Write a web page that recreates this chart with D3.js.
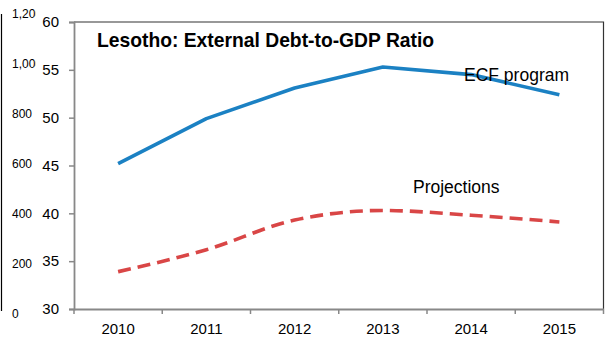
<!DOCTYPE html>
<html>
<head>
<meta charset="utf-8">
<script src="https://cdn.jsdelivr.net/npm/d3@7"></script>
<style>
  html, body { margin: 0; padding: 0; background: #fff; }
  svg { display: block; font-family: "Liberation Sans", Arial, sans-serif; }
</style>
</head>
<body>
<svg id="chart" width="607" height="338"></svg>
<script>
// Years on the category axis
const years = ["2010", "2011", "2012", "2013", "2014", "2015"];
// External debt, percent of GDP
const ecfProgram = [45.2, 49.9, 53.1, 55.3, 54.5, 52.4];
const projections = [33.9, 36.2, 39.3, 40.3, 39.8, 39.1];
// Left-hand axis ticks
const yTicks = [30, 35, 40, 45, 50, 55, 60];
// Tick labels of the underlying chart at the far left
const backTicks = [0, 200, 400, 600, 800, 1000, 1200];
const titleText = "Lesotho: External Debt-to-GDP Ratio";

const svg = d3.select("#chart");

const x = d3.scaleBand().domain(years).range([74, 603.5]);
const y = d3.scaleLinear().domain([30, 60]).range([309, 22]);
const yBack = d3.scaleLinear().domain([0, 1200]).range([314, 14]);

// Underlying chart's axis, partly hidden behind this one
svg.append("clipPath").attr("id", "backClip")
  .append("rect").attr("x", 0).attr("y", 0).attr("width", 35.5).attr("height", 338);
svg.append("line")
  .attr("x1", 1.5).attr("x2", 1.5).attr("y1", 14).attr("y2", 311)
  .attr("stroke", "#000").attr("stroke-width", 1.2);
svg.append("g").attr("clip-path", "url(#backClip)")
  .selectAll("text").data(backTicks).join("text")
  .attr("x", 12).attr("y", d => yBack(d)).attr("dy", "0.35em")
  .attr("font-size", 12).attr("fill", "#000")
  .text(d => d3.format(",")(d));

// Plot frame (top and right)
svg.append("path")
  .attr("d", `M${x.range()[0]},${y(60)}H${x.range()[1]}V${y(30)}`)
  .attr("fill", "none").attr("stroke", "#333").attr("stroke-width", 1.2);

// Y axis
const yAxis = svg.append("g")
  .attr("transform", `translate(${x.range()[0]},0)`)
  .call(d3.axisLeft(y).tickValues(yTicks).tickSize(5).tickPadding(10));
yAxis.selectAll("text").attr("font-size", 15).attr("fill", "#000")
  .attr("font-family", "'Liberation Sans', Arial, sans-serif");

// X axis with ticks between categories
const xAxis = svg.append("g")
  .attr("transform", `translate(0,${y(30)})`)
  .call(d3.axisBottom(x).tickSize(0).tickPadding(14));
xAxis.selectAll("text").attr("font-size", 15).attr("fill", "#000")
  .attr("font-family", "'Liberation Sans', Arial, sans-serif");
const bounds = years.map(d => x(d)).concat([x.range()[1]]);
xAxis.selectAll("line.sep").data(bounds).join("line").attr("class", "sep")
  .attr("x1", d => d).attr("x2", d => d).attr("y1", 0).attr("y2", 5)
  .attr("stroke", "#888").attr("stroke-width", 1.5);

[yAxis, xAxis].forEach(g => {
  g.select(".domain").attr("stroke", "#888").attr("stroke-width", 1.8);
  g.selectAll(".tick line").attr("stroke", "#888").attr("stroke-width", 1.5);
});

const cx = d => x(d) + x.bandwidth() / 2;

// ECF program line
svg.append("path")
  .datum(ecfProgram)
  .attr("fill", "none").attr("stroke", "#1b81c3").attr("stroke-width", 3.6)
  .attr("stroke-linejoin", "round")
  .attr("d", d3.line().x((d, i) => cx(years[i])).y(d => y(d)));

// Projections line
svg.append("path")
  .datum(projections)
  .attr("fill", "none").attr("stroke", "#d94646").attr("stroke-width", 3.6)
  .attr("stroke-dasharray", "13,7")
  .attr("d", d3.line().curve(d3.curveMonotoneX).x((d, i) => cx(years[i])).y(d => y(d)));

// Title and series labels
svg.append("text").attr("x", 97).attr("y", 47)
  .attr("font-size", 19.3).attr("font-weight", "bold").attr("fill", "#000")
  .text(titleText);
svg.append("text").attr("x", 464).attr("y", 81)
  .attr("font-size", 17.5).attr("fill", "#000").text("ECF program");
svg.append("text").attr("x", 413).attr("y", 193)
  .attr("font-size", 17.5).attr("fill", "#000").text("Projections");
</script>
</body>
</html>
